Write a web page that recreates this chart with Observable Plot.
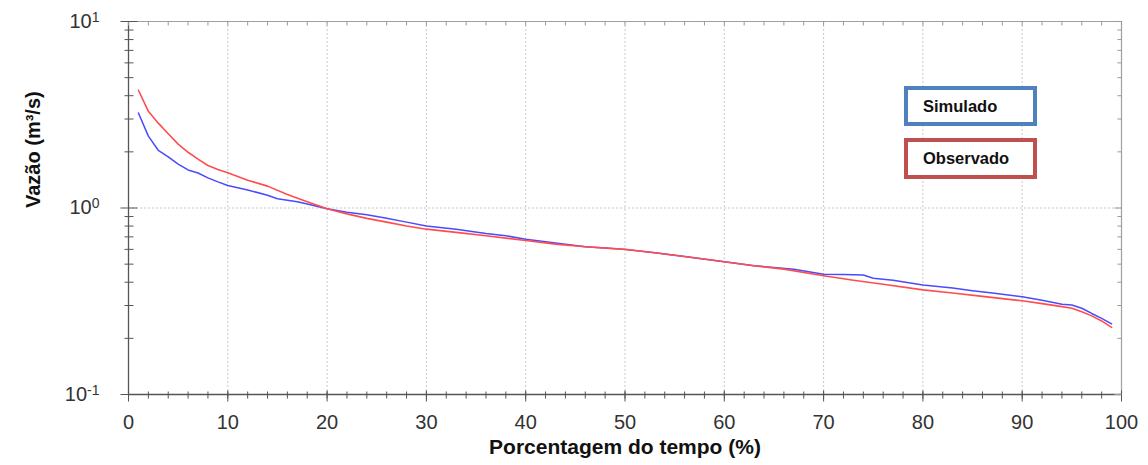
<!DOCTYPE html>
<html><head><meta charset="utf-8">
<script src="https://cdn.jsdelivr.net/npm/d3@7"></script>
<script src="https://cdn.jsdelivr.net/npm/@observablehq/plot@0.6"></script>
<style>
body{margin:0;background:#fff;}
#wrap{position:relative;width:1148px;height:465px;}
.leg{position:absolute;box-sizing:border-box;left:904px;width:133px;border:4px solid;background:#fff;font:bold 16.5px "Liberation Sans",Arial,sans-serif;padding-left:15px;color:#111;}
</style></head><body><div id="wrap"></div>
<script>
// Observado (red)
const obsPct = [1,2,3,4,5,6,7,8,9,10,12,14,16,18,20,22,24,26,28,30,33,36,40,43,46,50,53,56,60,63,66,70,73,76,80,83,86,90,92,94,95,96,97,98,99];
const obsQ   = [4.28,3.30,2.85,2.50,2.20,1.99,1.83,1.69,1.61,1.545,1.41,1.31,1.18,1.08,0.99,0.93,0.88,0.84,0.80,0.77,0.74,0.71,0.67,0.64,0.62,0.60,0.575,0.55,0.515,0.49,0.47,0.433,0.41,0.39,0.364,0.35,0.336,0.318,0.307,0.296,0.29,0.278,0.264,0.248,0.229];
// Simulado (blue)
const simPct = [1,2,3,4,5,6,7,8,9,10,12,14,15,16,17,18,20,22,24,26,28,30,33,36,38,40,43,46,48,50,53,56,60,63,65,67,70,72,74,75,77,80,83,85,87,90,92,94,95,96,97,98,99];
const simQ   = [3.23,2.43,2.04,1.88,1.72,1.60,1.54,1.45,1.38,1.32,1.25,1.17,1.12,1.10,1.08,1.05,0.99,0.95,0.92,0.88,0.84,0.80,0.77,0.73,0.71,0.68,0.65,0.62,0.61,0.60,0.575,0.55,0.515,0.49,0.48,0.47,0.441,0.44,0.437,0.42,0.41,0.386,0.372,0.36,0.35,0.334,0.32,0.305,0.302,0.29,0.272,0.256,0.239];

const xMajor = [0,10,20,30,40,50,60,70,80,90,100];
const xMinor = d3.range(0, 101, 2);
const yMajor = [0.1, 1, 10];
const yMinor = [0.2,0.3,0.4,0.5,0.6,0.7,0.8,0.9,2,3,4,5,6,7,8,9];
const yLabels = {"0.1":"-1","1":"0","10":"1"};
const xTitle = "Porcentagem do tempo (%)";
const yTitle = "Vazão (m³/s)";
const legendNames = ["Simulado","Observado"];

const obs = obsPct.map((p,i)=>({p, q: obsQ[i]}));
const sim = simPct.map((p,i)=>({p, q: simQ[i]}));

const seg = (x1,y1,x2,y2) => ({draw(ctx){ctx.moveTo(x1,y1); ctx.lineTo(x2,y2);}});
const tickStyle = {fill:"none", stroke:"#555", strokeWidth:1, r: 3};

const chart = Plot.plot({
  width: 1148, height: 465,
  marginLeft: 128, marginRight: 27, marginTop: 21, marginBottom: 71,
  style: {fontFamily: "'Liberation Sans', Arial, sans-serif", background: "#fff"},
  x: {domain: [0, 100]},
  y: {type: "log", domain: [0.1, 10]},
  marks: [
    Plot.ruleX(xMajor.slice(1,-1), {stroke:"#c8c8c8", strokeDasharray:"2,2"}),
    Plot.ruleY([1], {stroke:"#c8c8c8", strokeDasharray:"2,2"}),
    // frame
    Plot.ruleX([100], {stroke:"#a0a0a0", strokeWidth:1.2}),
    Plot.ruleY([10], {stroke:"#a0a0a0", strokeWidth:1.2}),
    Plot.ruleX([0], {stroke:"#555", strokeWidth:1.3}),
    Plot.ruleY([0.1], {stroke:"#555", strokeWidth:1.3}),
    // bottom ticks
    Plot.dot(xMinor, {x: d=>d, y: 0.1, symbol: seg(0,-3,0,4), ...tickStyle}),
    Plot.dot(xMajor, {x: d=>d, y: 0.1, symbol: seg(0,-4,0,7), ...tickStyle}),
    // top ticks
    Plot.dot(xMinor, {x: d=>d, y: 10, symbol: seg(0,0,0,4), ...tickStyle, stroke:"#999"}),
    // left ticks
    Plot.dot(yMinor, {x: 0, y: d=>d, symbol: seg(-4,0,5,0), ...tickStyle}),
    Plot.dot(yMajor, {x: 0, y: d=>d, symbol: seg(-8,0,9,0), ...tickStyle}),
    // right ticks
    Plot.dot(yMinor, {x: 100, y: d=>d, symbol: seg(-4,0,0,0), ...tickStyle, stroke:"#999"}),
    Plot.dot(yMajor, {x: 100, y: d=>d, symbol: seg(-7,0,0,0), ...tickStyle, stroke:"#999"}),
    // axes labels
    Plot.axisX(xMajor, {tickSize: 0, tickPadding: 20, fontSize: 20, fill: "#333", label: null}),
    Plot.axisY(yMajor, {tickSize: 0, tickPadding: 29, fontSize: 20, fill: "#333", label: null,
      tickFormat: d => "10|" + yLabels[String(d)]}),
    // series
    Plot.line(sim, {x: "p", y: "q", stroke: "#4a4aff", strokeWidth: 1.5}),
    Plot.line(obs, {x: "p", y: "q", stroke: "#ff4d4d", strokeWidth: 1.6}),
    // titles
    Plot.text([xTitle], {frameAnchor: "bottom", text: d=>d, dy: 59, fontSize: 21, fontWeight: "bold", fill: "#111"}),
    Plot.text([yTitle], {frameAnchor: "left", text: d=>d, dx: -95, rotate: -90, fontSize: 20, fontWeight: "bold", fill: "#111"})
  ]
});

d3.select(chart).selectAll('g[aria-label="y-axis tick label"] text').each(function(){
  const t = d3.select(this);
  const s = t.text();
  if (s.indexOf("|") < 0) return;
  const [base, exp] = s.split("|");
  t.text(null);
  t.append("tspan").text(base);
  t.append("tspan").attr("dy", "-0.45em").attr("font-size", "14px").text(exp);
});

const wrap = document.getElementById("wrap");
wrap.appendChild(chart);
const legColors = ["#4f81bd", "#c0504d"];
const legTop = [86, 138];
const legH = [40, 41];
legendNames.forEach((n,i)=>{
  const d = document.createElement("div");
  d.className = "leg";
  d.style.top = legTop[i] + "px";
  d.style.height = legH[i] + "px";
  d.style.lineHeight = (legH[i]-8) + "px";
  d.style.borderColor = legColors[i];
  d.textContent = n;
  wrap.appendChild(d);
});
</script>
</body></html>
